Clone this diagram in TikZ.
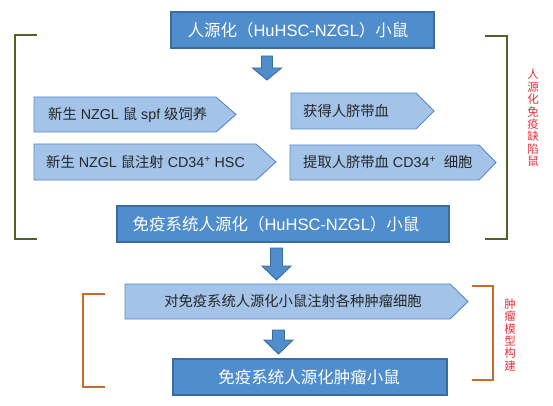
\documentclass[tikz,border=0pt]{standalone}
\usepackage{fontspec}
\setmainfont{Liberation Sans}
\newfontfamily\cjk{Noto Sans CJK SC}
\definecolor{dkfill}{RGB}{79,141,205}
\definecolor{dkline}{RGB}{58,108,160}
\definecolor{ltfill}{RGB}{163,196,232}
\definecolor{ltline}{RGB}{88,136,196}
\definecolor{brgreen}{RGB}{79,98,40}
\definecolor{brorange}{RGB}{200,105,45}
\definecolor{redtxt}{RGB}{232,48,58}
\newcommand\blockarrow[6]{%
  \draw[blkarrow] ({#1-#5},#2) -- ({#1+#5},#2) -- ({#1+#5},#3) -- ({#1+#6},#3) -- (#1,#4) -- ({#1-#6},#3) -- ({#1-#5},#3) -- cycle;}
\newcommand\pentagon[5]{% x0, xbody, xtip, ytop, ybot
  \draw[pentbox] (#1,#4) -- (#2,#4) -- (#3,{(#4+#5)/2}) -- (#2,#5) -- (#1,#5) -- cycle;}
\begin{document}
\begin{tikzpicture}[x=1pt,y=-1pt,
  darkbox/.style={draw=dkline,line width=1.2pt,fill=dkfill,inner sep=0pt},
  pentbox/.style={draw=ltline,line width=0.9pt,fill=ltfill},
  blkarrow/.style={draw=dkline,line width=0.9pt,fill=dkfill},
  darktext/.style={text=white,font=\fontsize{16.5}{18}\selectfont,inner sep=0pt},
  lighttext/.style={text=black!85,font=\fontsize{14.3}{16}\selectfont,inner sep=0pt,anchor=west},
  greenbr/.style={draw=brgreen,line width=2.2pt},
  orangebr/.style={draw=brorange,line width=2.2pt},
  vtext/.style={text=redtxt,align=center,inner sep=0pt,font=\cjk\fontsize{11.5}{12.4}\selectfont}]
\useasboundingbox[fill=white] (0,0) rectangle (553,406);

% top box
\node[darkbox,minimum width=263pt,minimum height=36pt] (top) at (302.5,30) {};
\node[darktext] (toptext) at (298,30) {{\cjk 人源化（}HuHSC-NZGL{\cjk ）小鼠}};
\blockarrow{267}{56}{68}{80}{5.5}{14.5}

% pentagons inside
\pentagon{34}{216}{236}{97}{132}
\node[lighttext] (p1) at (48,114.5) {{\cjk 新生} NZGL {\cjk 鼠} spf {\cjk 级饲养}};
\pentagon{291}{416}{434}{93}{129}
\node[lighttext] (p2) at (303,111) {{\cjk 获得人脐带血}};
\pentagon{34}{256}{276}{144}{180}
\node[lighttext] (p3) at (46,162) {{\cjk 新生} NZGL {\cjk 鼠注射} CD34\textsuperscript{+} HSC};
\pentagon{290}{479}{496}{145}{180}
\node[lighttext] (p4) at (303,162.5) {{\cjk 提取人脐带血} CD34\textsuperscript{+}\ \ {\cjk 细胞}};

% box 2
\node[darkbox,minimum width=332pt,minimum height=36pt] (mid) at (283,224) {};
\node[darktext] (midtext) at (276,224) {{\cjk 免疫系统人源化（}HuHSC-NZGL{\cjk ）小鼠}};

% green brackets
\draw[greenbr] (37,35) -- (15,35) -- (15,239) -- (37,239);
\draw[greenbr] (485,36) -- (507,36) -- (507,239) -- (485,239);
\node[vtext] (lab1) at (533,118) {人\\源\\化\\免\\疫\\缺\\陷\\鼠};

\blockarrow{276.5}{248}{266}{280}{6}{14.5}

% tumour part
\pentagon{125}{450}{468}{284}{319}
\node[lighttext,anchor=center] (p5) at (293,301.5) {{\cjk 对免疫系统人源化小鼠注射各种肿瘤细胞}};
\blockarrow{278.5}{330}{340}{354}{6}{14.5}
\node[darkbox,minimum width=274pt,minimum height=36pt] (bot) at (310,377) {};
\node[darktext] (bottext) at (309,377) {{\cjk 免疫系统人源化肿瘤小鼠}};

% orange brackets
\draw[orangebr] (105,294) -- (83,294) -- (83,387) -- (105,387);
\draw[orangebr] (472,286) -- (493,286) -- (493,380) -- (472,380);
\node[vtext] (lab2) at (510,335) {肿\\瘤\\模\\型\\构\\建};
\end{tikzpicture}
\end{document}
